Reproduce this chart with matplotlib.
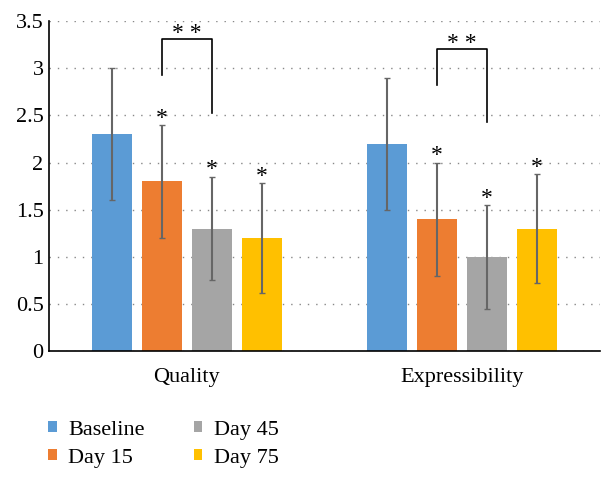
import numpy as np
import matplotlib
matplotlib.use("Agg")
import matplotlib.pyplot as plt

categories = ["Quality", "Expressibility"]
series = ["Baseline", "Day 15", "Day 45", "Day 75"]
means = {
    "Baseline": [2.3, 2.2],
    "Day 15": [1.8, 1.4],
    "Day 45": [1.3, 1.0],
    "Day 75": [1.2, 1.3],
}
errors = {
    "Baseline": [0.7, 0.7],
    "Day 15": [0.6, 0.6],
    "Day 45": [0.55, 0.55],
    "Day 75": [0.58, 0.58],
}
starred = ["Day 15", "Day 45", "Day 75"]
# bracket heights per category: (top, left foot, right foot)
brackets = [(3.31, 2.93, 2.53), (3.2, 2.82, 2.43)]
colors = ["#5B9BD5", "#ED7D31", "#A5A5A5", "#FFC000"]

plt.rcParams["font.family"] = ["Liberation Serif", "DejaVu Serif"]

fig = plt.figure(figsize=(6.14, 4.79), dpi=100)
ax = fig.add_axes([0.08, 0.267, 0.897, 0.689])

x = np.arange(len(categories))
step = 0.181
width = 0.145
offsets = (np.arange(len(series)) - 1.5) * step

for i, s in enumerate(series):
    xs = x + offsets[i]
    ax.bar(xs, means[s], width, color=colors[i], label=s, zorder=2)
    ax.errorbar(xs, means[s], yerr=errors[s], fmt="none", ecolor="#666666",
                elinewidth=1.5, capsize=2, capthick=1.0, zorder=3)
    if s in starred:
        for xi, m, e in zip(xs, means[s], errors[s]):
            ax.text(xi, m + e - 0.04, "*", ha="center", va="bottom", fontsize=17)

# significance brackets between Day 15 and Day 45
for j, (top, lft, rgt) in enumerate(brackets):
    x1 = x[j] + offsets[1]
    x2 = x[j] + offsets[2]
    ax.plot([x1, x1, x2, x2], [lft, top, top, rgt], color="black", lw=1.2, zorder=3)
    ax.text((x1 + x2) / 2, top - 0.05, "* *", ha="center", va="bottom", fontsize=17)

ax.set_xlim(-0.5, 1.5)
ax.set_ylim(0, 3.5)
ax.set_yticks(np.arange(0, 3.51, 0.5))
ax.set_yticklabels(["0", "0.5", "1", "1.5", "2", "2.5", "3", "3.5"])
ax.set_xticks(x)
ax.set_xticklabels(categories)
ax.tick_params(axis="y", length=0, labelsize=16, pad=4)
ax.tick_params(axis="x", length=0, labelsize=16, pad=12)
ax.yaxis.grid(True, linestyle=(0, (1, 5)), color="#888888", lw=1.0, zorder=0)
ax.set_axisbelow(True)
for sp in ["top", "right"]:
    ax.spines[sp].set_visible(False)
ax.spines["left"].set_linewidth(1.2)
ax.spines["bottom"].set_linewidth(1.2)

ax.legend(loc="upper left", bbox_to_anchor=(-0.038, -0.15), ncol=2, frameon=False,
          fontsize=16, handlelength=0.4, handleheight=0.4, columnspacing=2.2,
          handletextpad=0.5, labelspacing=0.4)

fig.savefig("out.png", dpi=100)
